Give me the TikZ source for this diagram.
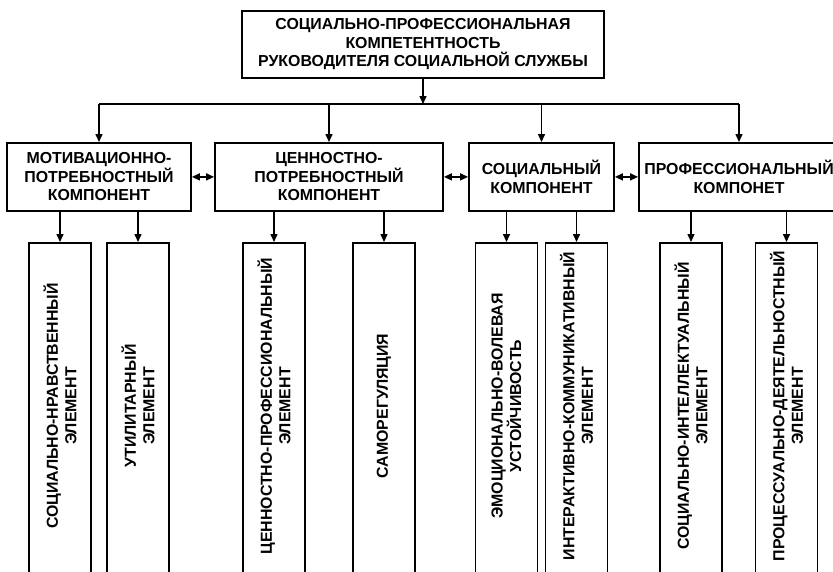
\documentclass[tikz,border=0pt]{standalone}
\usepackage{fontspec}
\setmainfont{Liberation Sans}
\usetikzlibrary{arrows.meta}
\tikzset{
  box/.style={draw, line width=1.8pt, rectangle, inner sep=0pt, align=center,
    font=\bfseries\fontsize{15.9}{18.5}\selectfont},
  elbox/.style={draw, line width=1.8pt, rectangle, inner sep=0pt,
    minimum width=62pt, minimum height=340pt, anchor=north},
  eltext/.style={rotate=90, align=center, inner sep=0pt,
    font=\bfseries\fontsize{15.9}{18.5}\selectfont},
  arr/.style={line width=1.5pt, -{Triangle[length=8pt,width=7pt]}},
  darr/.style={line width=1.5pt, {Triangle[length=8pt,width=7pt]}-{Triangle[length=8pt,width=7pt]}},
  ln/.style={line width=1.5pt}
}
\begin{document}
\begin{tikzpicture}[x=1pt,y=-1pt]
\useasboundingbox (0,0) rectangle (833,571);
\clip (0,0) rectangle (833,571);
% top box
\node[box, minimum width=362pt, minimum height=67pt, anchor=north] (top) at (423,10)
  {СОЦИАЛЬНО-ПРОФЕССИОНАЛЬНАЯ\\КОМПЕТЕНТНОСТЬ\\РУКОВОДИТЕЛЯ СОЦИАЛЬНОЙ СЛУЖБЫ};
% bus
\coordinate (busL) at (99,104);
\coordinate (busR) at (739,104);
\coordinate (busM) at (423,104);
\draw[arr] (top.south) -- (busM);
\draw[ln] (busL) -- (busR);
% component boxes
\node[box, minimum width=184pt, minimum height=68pt, anchor=north] (c1) at (99,142)
  {МОТИВАЦИОННО-\\ПОТРЕБНОСТНЫЙ\\КОМПОНЕНТ};
\node[box, minimum width=228pt, minimum height=68pt, anchor=north] (c2) at (329,142)
  {ЦЕННОСТНО-\\ПОТРЕБНОСТНЫЙ\\КОМПОНЕНТ};
\node[box, minimum width=145pt, minimum height=68pt, anchor=north] (c3) at (541.5,142)
  {СОЦИАЛЬНЫЙ\\КОМПОНЕНТ};
\node[box, minimum width=200pt, minimum height=68pt, anchor=north] (c4) at (739,142)
  {ПРОФЕССИОНАЛЬНЫЙ\\КОМПОНЕТ};
\draw[arr] (busL) -- (c1.north);
\draw[arr] (c2.north |- busM) -- (c2.north);
\draw[arr] (c3.north |- busM) -- (c3.north);
\draw[arr] (busR) -- (c4.north);
\draw[darr] (c1.east) -- (c2.west);
\draw[darr] (c2.east) -- (c3.west);
\draw[darr] (c3.east) -- (c4.west);
% element boxes
\node[elbox] (eA) at (60,242) {};
\node[elbox] (eB) at (138,242) {};
\node[elbox] (eC) at (274,242) {};
\node[elbox] (eD) at (384,242) {};
\node[elbox] (eE) at (506.5,242) {};
\node[elbox] (eF) at (576.5,242) {};
\node[elbox] (eG) at (691,242) {};
\node[elbox] (eH) at (786.5,242) {};
\node[eltext] (tA) at (60,406) {СОЦИАЛЬНО-НРАВСТВЕННЫЙ\\ЭЛЕМЕНТ};
\node[eltext] (tB) at (138,406) {УТИЛИТАРНЫЙ\\ЭЛЕМЕНТ};
\node[eltext] (tC) at (274,406) {ЦЕННОСТНО-ПРОФЕССИОНАЛЬНЫЙ\\ЭЛЕМЕНТ};
\node[eltext] (tD) at (384,406) {САМОРЕГУЛЯЦИЯ};
\node[eltext] (tE) at (506.5,406) {ЭМОЦИОНАЛЬНО-ВОЛЕВАЯ\\УСТОЙЧИВОСТЬ};
\node[eltext] (tF) at (576.5,406) {ИНТЕРАКТИВНО-КОММУНИКАТИВНЫЙ\\ЭЛЕМЕНТ};
\node[eltext] (tG) at (691,406) {СОЦИАЛЬНО-ИНТЕЛЛЕКТУАЛЬНЫЙ\\ЭЛЕМЕНТ};
\node[eltext] (tH) at (786.5,406) {ПРОЦЕССУАЛЬНО-ДЕЯТЕЛЬНОСТНЫЙ\\ЭЛЕМЕНТ};
\draw[arr] (eA.north |- c1.south) -- (eA.north);
\draw[arr] (eB.north |- c1.south) -- (eB.north);
\draw[arr] (eC.north |- c2.south) -- (eC.north);
\draw[arr] (eD.north |- c2.south) -- (eD.north);
\draw[arr] (eE.north |- c3.south) -- (eE.north);
\draw[arr] (eF.north |- c3.south) -- (eF.north);
\draw[arr] (eG.north |- c4.south) -- (eG.north);
\draw[arr] (eH.north |- c4.south) -- (eH.north);
\end{tikzpicture}
\end{document}
